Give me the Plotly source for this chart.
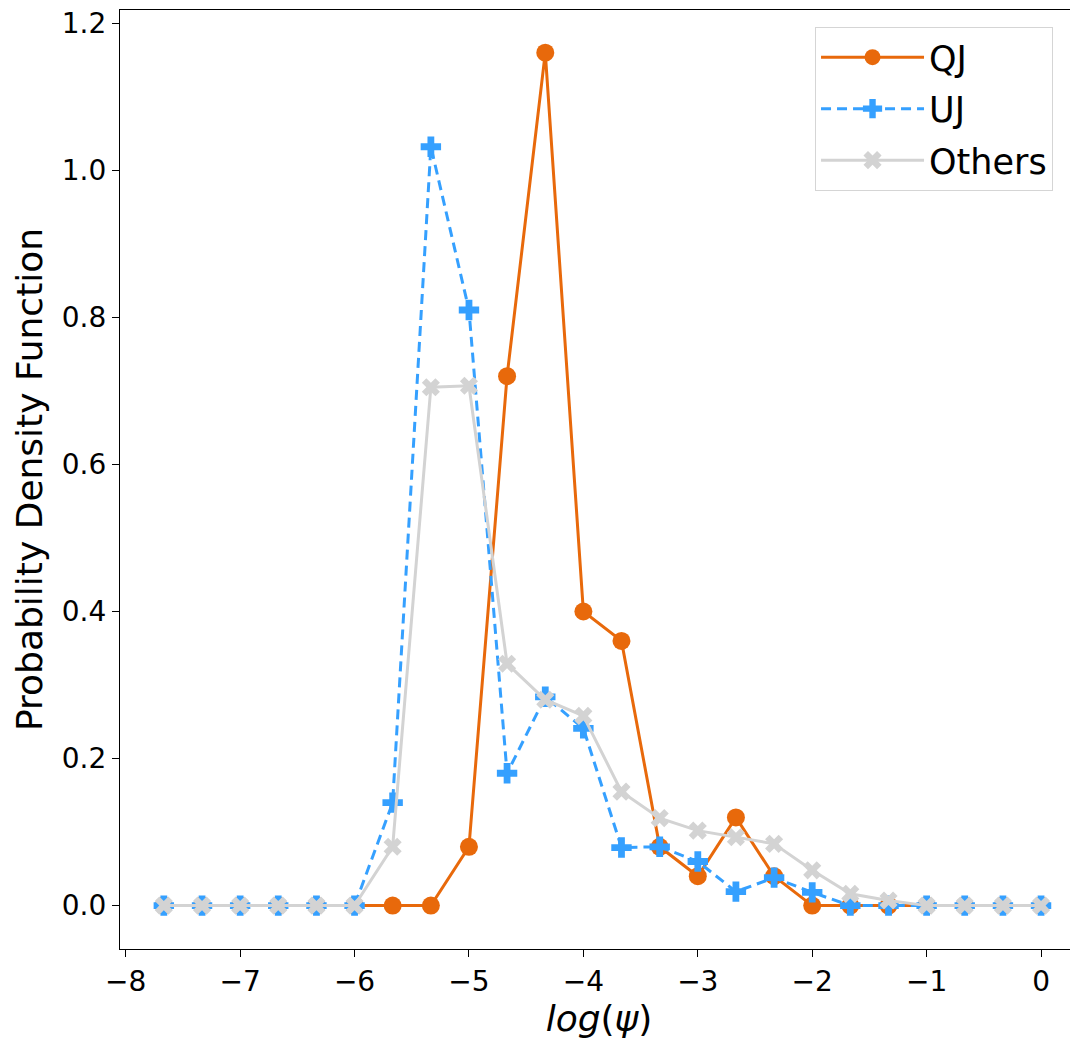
import plotly.graph_objects as go

log_psi = [-7.667, -7.333, -7.0, -6.667, -6.333, -6.0, -5.667, -5.333, -5.0, -4.667,
           -4.333, -4.0, -3.667, -3.333, -3.0, -2.667, -2.333, -2.0, -1.667, -1.333,
           -1.0, -0.667, -0.333, 0.0]

qj = [0, 0, 0, 0, 0, 0, 0, 0, 0.08, 0.72,
      1.16, 0.40, 0.36, 0.08, 0.04, 0.12, 0.04, 0, 0, 0,
      0, 0, 0, 0]

uj = [0, 0, 0, 0, 0, 0, 0.14, 1.032, 0.81, 0.18,
      0.284, 0.241, 0.079, 0.08, 0.06, 0.019, 0.038, 0.018, 0, 0,
      0, 0, 0, 0]

others = [0, 0, 0, 0, 0, 0, 0.08, 0.705, 0.707, 0.329,
          0.28, 0.258, 0.155, 0.119, 0.102, 0.093, 0.084, 0.048, 0.016, 0.007,
          0, 0, 0, 0]

x_ticks = [-8, -7, -6, -5, -4, -3, -2, -1, 0]
x_tick_text = ["−8", "−7", "−6", "−5", "−4", "−3", "−2", "−1", "0"]
y_ticks = [0.0, 0.2, 0.4, 0.6, 0.8, 1.0, 1.2]

ORANGE = "#E8690B"
BLUE = "#35A0FF"
GRAY = "#D3D3D3"

fig = go.Figure()
fig.add_trace(go.Scatter(
    x=log_psi, y=qj, name="QJ", mode="lines+markers", legendgroup="a",
    line=dict(color=ORANGE, width=3),
    marker=dict(symbol="circle", size=18, color=ORANGE, line=dict(width=0)),
))
fig.add_trace(go.Scatter(
    x=log_psi, y=uj, name="UJ", mode="lines+markers", legendgroup="b",
    line=dict(color=BLUE, width=3, dash="10px,6px"),
    marker=dict(symbol="cross", size=17, color=BLUE, line=dict(width=0)),
))
fig.add_trace(go.Scatter(
    x=log_psi, y=others, name="Others", mode="lines+markers", legendgroup="c",
    line=dict(color=GRAY, width=3),
    marker=dict(symbol="x", size=16, color=GRAY, line=dict(width=0)),
))

axis_font = dict(family="DejaVu Sans", size=28, color="#000000")

fig.update_layout(
    width=1070, height=1034,
    margin=dict(l=112, r=0, t=2, b=93),
    paper_bgcolor="white", plot_bgcolor="white",
    font=dict(family="DejaVu Sans", color="#000000"),
    showlegend=True,
    legend=dict(
        x=0.7255, y=0.982, xanchor="left", yanchor="top",
        font=dict(family="DejaVu Sans", size=35, color="#000000"),
        bordercolor="#D5D5D5", borderwidth=1, bgcolor="rgba(255,255,255,0.8)",
        tracegroupgap=3, itemwidth=103,
    ),
    xaxis=dict(
        range=[-8.05, 0.323], tickvals=x_ticks, ticktext=x_tick_text,
        showgrid=False, zeroline=False,
        showline=True, linecolor="#000000", linewidth=1.3, mirror=True,
        ticks="outside", ticklen=7, tickwidth=1.3, tickcolor="#000000",
        tickfont=axis_font, ticklabeloverflow="allow",
        title=dict(text="<i>log</i>(<i>ψ</i>)", font=dict(family="DejaVu Sans", size=36), standoff=4),
    ),
    yaxis=dict(
        range=[-0.059, 1.218], tickvals=y_ticks, tickformat=".1f",
        showgrid=False, zeroline=False,
        showline=True, linecolor="#000000", linewidth=1.3, mirror=False,
        ticks="outside", ticklen=7, tickwidth=1.3, tickcolor="#000000",
        tickfont=axis_font, ticklabeloverflow="allow",
        title=dict(text="Probability Density Function", font=dict(family="DejaVu Sans", size=36), standoff=8),
    ),
)

fig.write_html("out.html")
